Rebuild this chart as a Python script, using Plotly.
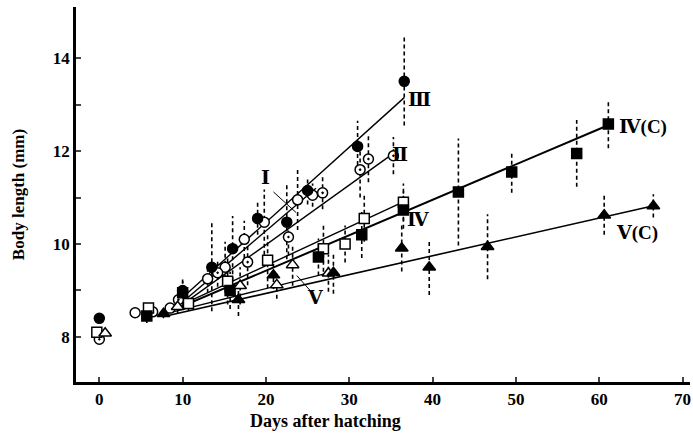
import plotly.graph_objects as go

# ---------------- data ----------------
# Group I (open circles)
I_days = [4.3, 6.4, 8.5, 13.0, 15.1, 17.4, 19.8, 23.8, 25.6]
I_len = [8.52, 8.54, 8.62, 9.25, 9.50, 10.10, 10.47, 10.95, 11.05]
I_err = [0.10, 0.10, 0.10, 0.30, 0.55, 0.40, 0.70, 0.65, 0.25]

# Group II (circled dot)
II_days = [0.0, 9.5, 14.2, 17.8, 22.7, 26.8, 31.3, 32.3, 35.3]
II_len = [7.95, 8.80, 9.38, 9.61, 10.15, 11.10, 11.60, 11.83, 11.90]
II_err = [0.08, 0.20, 0.30, 0.50, 0.40, 0.35, 0.60, 0.50, 0.40]

# Group III (filled circles)
III_days = [0.0, 10.0, 13.5, 16.0, 19.0, 22.5, 25.0, 31.0, 36.6]
III_len = [8.40, 9.00, 9.50, 9.90, 10.55, 10.47, 11.15, 12.10, 13.50]
III_err = [0.0, 0.30, 0.95, 0.70, 0.35, 0.80, 0.30, 0.55, 0.95]

# Group IV (open squares)
IV_days = [-0.3, 5.9, 10.7, 15.4, 20.2, 26.9, 29.5, 31.8, 36.5]
IV_len = [8.10, 8.62, 8.72, 9.20, 9.65, 9.90, 10.00, 10.55, 10.90]
IV_err = [0.0, 0.15, 0.15, 0.50, 0.60, 0.50, 0.40, 0.50, 0.40]

# Group IV(C) (filled squares)
IVC_days = [5.7, 10.0, 15.7, 26.3, 31.5, 36.5, 43.1, 49.5, 57.3, 61.1]
IVC_len = [8.45, 8.95, 9.00, 9.72, 10.20, 10.73, 11.12, 11.55, 11.95, 12.58]
IVC_err = [0.15, 0.25, 0.40, 0.40, 0.50, 0.40, 1.15, 0.45, 0.72, 0.52]

# Group V (open triangles)
V_days = [0.7, 9.4, 16.9, 21.3, 23.2, 27.5]
V_len = [8.08, 8.65, 9.10, 9.12, 9.55, 9.37]
V_err = [0.0, 0.15, 0.40, 0.30, 0.45, 0.40]

# Group V(C) (filled triangles)
VC_days = [7.7, 16.7, 20.9, 28.1, 36.3, 39.6, 46.6, 60.6, 66.5]
VC_len = [8.50, 8.80, 9.33, 9.38, 9.91, 9.50, 9.94, 10.62, 10.82]
VC_err = [0.10, 0.35, 0.30, 0.45, 0.50, 0.60, 0.70, 0.42, 0.25]

# Fitted growth lines (start/end day, start/end length)
fit_names = ["Ⅰ", "Ⅱ", "Ⅲ", "Ⅳ", "Ⅳ(C)", "Ⅴ", "Ⅴ(C)"]
fit_x0 = [10.0, 10.0, 10.0, 10.0, 8.5, 8.0, 8.0]
fit_x1 = [26.0, 35.3, 36.6, 37.0, 61.0, 28.0, 66.0]
fit_y0 = [8.75, 8.70, 8.85, 8.70, 8.55, 8.50, 8.45]
fit_y1 = [11.20, 11.95, 13.15, 10.95, 12.55, 9.40, 10.80]
fit_w = [1.4, 1.4, 1.4, 1.4, 2.0, 1.4, 1.6]

# Curve labels
lab_text = ["Ⅲ", "Ⅱ", "Ⅰ", "Ⅳ", "Ⅳ(C)", "Ⅴ(C)", "Ⅴ"]
lab_x = [38.4, 36.1, 20.0, 38.3, 65.3, 64.5, 26.0]
lab_y = [13.10, 11.92, 11.43, 10.52, 12.52, 10.24, 8.85]

# leader lines for labels I and V
lead_x0 = [20.9, 25.3]
lead_y0 = [11.12, 9.00]
lead_x1 = [23.6, 23.7]
lead_y1 = [10.68, 9.32]

x_ticks = [0, 10, 20, 30, 40, 50, 60, 70]
y_ticks = [8, 9, 10, 11, 12, 13, 14]
y_ticktext = ["8", "", "10", "", "12", "", "14"]

FONT = "Liberation Serif, Times New Roman, DejaVu Serif, serif"

fig = go.Figure()

# fitted lines
for x0, x1, y0, y1, w in zip(fit_x0, fit_x1, fit_y0, fit_y1, fit_w):
    fig.add_trace(go.Scatter(x=[x0, x1], y=[y0, y1], mode="lines",
                             line=dict(color="black", width=w),
                             hoverinfo="skip", showlegend=False))

# leader lines
for a, b, c, d in zip(lead_x0, lead_y0, lead_x1, lead_y1):
    fig.add_trace(go.Scatter(x=[a, c], y=[b, d], mode="lines",
                             line=dict(color="black", width=1),
                             hoverinfo="skip", showlegend=False))

groups = [
    (I_days, I_len, I_err, "circle", "white", 10),
    (II_days, II_len, II_err, "circle-dot", "white", 10),
    (III_days, III_len, III_err, "circle", "black", 10),
    (IV_days, IV_len, IV_err, "square", "white", 10),
    (IVC_days, IVC_len, IVC_err, "square", "black", 10),
    (V_days, V_len, V_err, "triangle-up", "white", 11),
    (VC_days, VC_len, VC_err, "triangle-up", "black", 11),
]

# dashed error bars
for xs, ys, es, *_ in groups:
    ex, ey = [], []
    for x, y, e in zip(xs, ys, es):
        if e > 0:
            ex += [x, x, None]
            ey += [y - e, y + e, None]
    fig.add_trace(go.Scatter(x=ex, y=ey, mode="lines",
                             line=dict(color="black", width=1.6, dash="4px,3px"),
                             hoverinfo="skip", showlegend=False))

# markers
for xs, ys, es, sym, col, sz in groups:
    fig.add_trace(go.Scatter(x=xs, y=ys, mode="markers",
                             marker=dict(symbol=sym, size=sz, color=col,
                                         line=dict(color="black", width=1.5)),
                             showlegend=False))

for t, x, y in zip(lab_text, lab_x, lab_y):
    fig.add_annotation(x=x, y=y, text=t, showarrow=False,
                       font=dict(family=FONT, size=19, color="black", weight="bold"),
                       xanchor="center", yanchor="middle")

# x-axis title (placed left of centre, as in the original)
fig.add_annotation(xref="paper", yref="paper", x=0.407, y=-0.104,
                   text="Days after hatching", showarrow=False,
                   xanchor="center", yanchor="middle",
                   font=dict(family=FONT, size=18, color="black", weight="bold"))

fig.update_layout(
    width=693, height=437,
    margin=dict(l=76, r=3, t=7, b=55),
    paper_bgcolor="white", plot_bgcolor="white",
    font=dict(family=FONT, color="black"),
    xaxis=dict(range=[-2.8, 70.9], tickvals=x_ticks, ticks="inside", ticklen=5,
               tickwidth=1.5, showline=True, linewidth=2.5, linecolor="black",
               showgrid=False, zeroline=False,
               tickfont=dict(family=FONT, size=17, color="black", weight="bold")),
    yaxis=dict(range=[7.03, 15.1], tickvals=y_ticks, ticktext=y_ticktext,
               ticks="inside", ticklen=5, tickwidth=1.5, showline=True,
               linewidth=2.5, linecolor="black", showgrid=False, zeroline=False,
               tickfont=dict(family=FONT, size=17, color="black", weight="bold"),
               title=dict(text="Body length (mm)", standoff=24,
                          font=dict(family=FONT, size=17, color="black", weight="bold"))),
)

fig.write_html("out.html")
